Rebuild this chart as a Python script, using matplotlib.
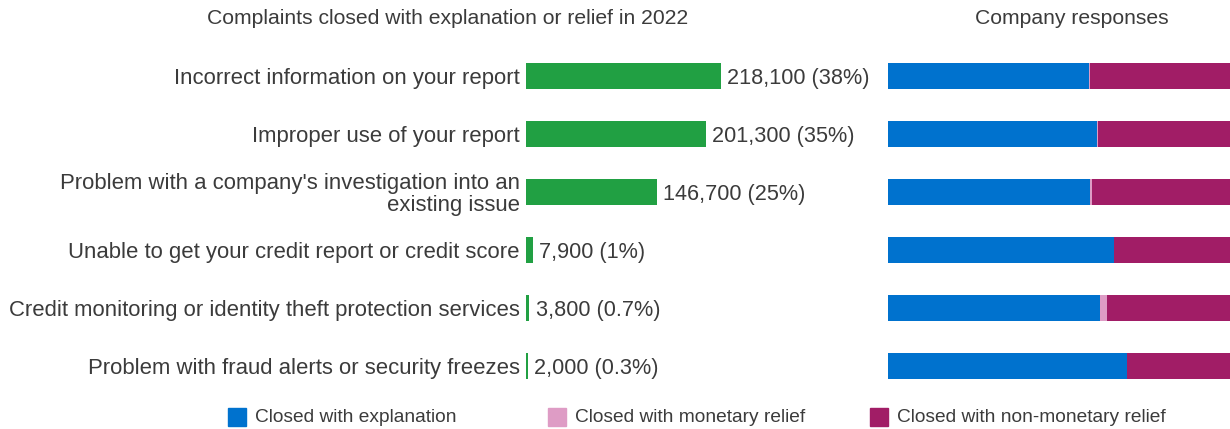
import matplotlib.pyplot as plt
from matplotlib.patches import Rectangle

plt.rcParams['font.family'] = ['Liberation Sans', 'DejaVu Sans']

# complaint categories (top to bottom)
categories = [
    "Incorrect information on your report",
    "Improper use of your report",
    "Problem with a company's investigation into an\nexisting issue",
    "Unable to get your credit report or credit score",
    "Credit monitoring or identity theft protection services",
    "Problem with fraud alerts or security freezes",
]
counts = [218100, 201300, 146700, 7900, 3800, 2000]
shares = ["38%", "35%", "25%", "1%", "0.7%", "0.3%"]

# company responses, percent of each category
explanation = [58.8, 61.2, 59.2, 66.0, 62.1, 69.9]
monetary = [0.4, 0.1, 0.4, 0.1, 1.8, 0.1]
non_monetary = [100 - e - m for e, m in zip(explanation, monetary)]

legend_labels = ["Closed with explanation", "Closed with monetary relief",
                 "Closed with non-monetary relief"]

green = '#21a043'
blue = '#0072ce'
pink = '#de9cc5'
purple = '#a11d66'
text_col = '#3b3b3b'

W, H = 1230, 429
fig = plt.figure(figsize=(W / 100, H / 100), dpi=100)

bottom = 1 - 395 / H
height = 348 / H
ax1 = fig.add_axes([526 / W, bottom, 354 / W, height])
ax2 = fig.add_axes([888 / W, bottom, 342 / W, height])

y = list(range(len(categories)))
bh = 0.45

ax1.barh(y, counts, height=bh, color=green)
for yi, c, s in zip(y, counts, shares):
    ax1.annotate(f"{c:,} ({s})", (c, yi), xytext=(4.5, 0), textcoords='offset points',
                 va='center_baseline', ha='left', fontsize=15.6, color=text_col)
ax1.set_xlim(0, 218100 * 354 / 195)
ax1.set_yticks(y)
ax1.set_yticklabels(categories, fontsize=15.9, color=text_col, linespacing=1.02)
ax1.tick_params(axis='y', length=0, pad=4.5)
ax1.tick_params(axis='x', bottom=False, labelbottom=False)

left = [0] * len(y)
for vals, col in [(explanation, blue), (monetary, pink), (non_monetary, purple)]:
    ax2.barh(y, vals, left=left, height=bh, color=col)
    left = [a + b for a, b in zip(left, vals)]
ax2.set_xlim(0, 100)
ax2.set_yticks([])
ax2.set_xticks([])

for ax in (ax1, ax2):
    ax.set_ylim(len(y) - 0.5, -0.5)
    for sp in ax.spines.values():
        sp.set_visible(False)

fig.text(448 / W, 1 - 19 / H, "Complaints closed with explanation or relief in 2022",
         ha='center', va='center', fontsize=15.2, color=text_col)
fig.text(1072 / W, 1 - 19 / H, "Company responses",
         ha='center', va='center', fontsize=15.2, color=text_col)

# legend
for x0, lab, col in zip([228, 548, 870], legend_labels, [blue, pink, purple]):
    fig.patches.append(Rectangle((x0 / W, 1 - 426 / H), 18 / W, 18 / H,
                                 transform=fig.transFigure, color=col))
    fig.text((x0 + 27) / W, 1 - 417 / H, lab, ha='left', va='center',
             fontsize=13.8, color=text_col)

fig.savefig('out.png', dpi=100)
